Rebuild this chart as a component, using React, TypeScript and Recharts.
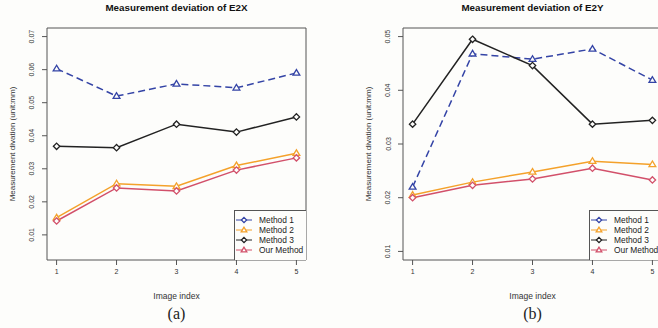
import React from 'react';
import { LineChart, Line, XAxis, YAxis, ReferenceArea, Legend } from 'recharts';

const X_INDEX = [1, 2, 3, 4, 5];

const E2X_M1 = [0.0603, 0.052, 0.0557, 0.0545, 0.059];
const E2X_M2 = [0.0152, 0.0255, 0.0247, 0.031, 0.0347];
const E2X_M3 = [0.0368, 0.0364, 0.0435, 0.0411, 0.0457];
const E2X_OUR = [0.0142, 0.0242, 0.0233, 0.0296, 0.0333];
const E2X_TICKS = [0.01, 0.02, 0.03, 0.04, 0.05, 0.06, 0.07];
const E2X_YLIM = [0.005, 0.07];

const E2Y_M1 = [0.022, 0.0468, 0.0458, 0.0477, 0.0419];
const E2Y_M2 = [0.0205, 0.0229, 0.0248, 0.0268, 0.0262];
const E2Y_M3 = [0.0337, 0.0495, 0.0446, 0.0337, 0.0344];
const E2Y_OUR = [0.02, 0.0223, 0.0235, 0.0255, 0.0233];
const E2Y_TICKS = [0.01, 0.02, 0.03, 0.04, 0.05];
const E2Y_YLIM = [0.01, 0.05];

const LEGEND_NAMES = ['Method 1', 'Method 2', 'Method 3', 'Our Method'];

const BLUE = '#3444a6';
const ORANGE = '#f4a12a';
const BLACK = '#222222';
const RED = '#d2506a';
const BG = '#fdfdfb';
const FONT = '"Liberation Sans", Arial, Helvetica, sans-serif';

// R style axis range: 4% padding on each side
const pad = (lim: number[]) => {
  const d = (lim[1] - lim[0]) * 0.04;
  return [lim[0] - d, lim[1] + d];
};
const X_DOMAIN = pad([1, 5]);

const Triangle = (props: any) => {
  const { cx, cy, color, r = 3.4 } = props;
  if (cx == null || cy == null) return null;
  return (
    <polygon
      points={`${cx},${cy - r} ${cx - r},${cy + r * 0.65} ${cx + r},${cy + r * 0.65}`}
      fill={BG}
      stroke={color}
      strokeWidth={1.3}
    />
  );
};

const Diamond = (props: any) => {
  const { cx, cy, color, r = 3.2 } = props;
  if (cx == null || cy == null) return null;
  return (
    <polygon
      points={`${cx},${cy - r} ${cx + r},${cy} ${cx},${cy + r} ${cx - r},${cy}`}
      fill={BG}
      stroke={color}
      strokeWidth={1.3}
    />
  );
};

const YTick = (props: any) => {
  const { x, y, payload } = props;
  const tx = x - 8;
  return (
    <text
      x={tx}
      y={y}
      transform={`rotate(-90 ${tx} ${y})`}
      textAnchor="middle"
      dominantBaseline="central"
      fontSize={7}
      fontFamily={FONT}
      fill="#333"
    >
      {payload.value.toFixed(2)}
    </text>
  );
};

const YLabel = (props: any) => {
  const vb = props.viewBox || {};
  const x = (vb.x || 0) + 12;
  const y = (vb.y || 0) + (vb.height || 0) / 2;
  return (
    <text
      x={x}
      y={y}
      transform={`rotate(-90 ${x} ${y})`}
      textAnchor="middle"
      dominantBaseline="central"
      fontSize={8}
      fontFamily={FONT}
      fill="#333"
    >
      Measurement divation (unit:mm)
    </text>
  );
};

const LegendBox = ({ width }: { width: number }) => {
  const colors = [BLUE, ORANGE, BLACK, RED];
  return (
    <svg width={width} height={50} style={{ display: 'block' }}>
      <rect x={0.5} y={0.5} width={width + 5} height={55} fill={BG} stroke="#555" />
      {LEGEND_NAMES.map((name, i) => {
        const y = 10 + i * 10;
        const c = colors[i];
        return (
          <g key={name}>
            <line x1={2} x2={18} y1={y} y2={y} stroke={c} strokeWidth={1} />
            {i % 2 === 0 ? (
              <Diamond cx={10} cy={y} color={c} r={2.6} />
            ) : (
              <Triangle cx={10} cy={y} color={c} r={2.8} />
            )}
            <text x={25} y={y} dominantBaseline="central" fontSize={8.4} fontFamily={FONT} fill="#222">
              {name}
            </text>
          </g>
        );
      })}
    </svg>
  );
};

interface PanelProps {
  left: number;
  viewWidth: number;
  chartWidth: number;
  marginLeft: number;
  marginRight: number;
  title: string;
  caption: string;
  m1: number[];
  m2: number[];
  m3: number[];
  our: number[];
  ticks: number[];
  ylim: number[];
  legendLeft: number;
  legendWidth: number;
}

const Panel: React.FC<PanelProps> = (p) => {
  const data = X_INDEX.map((x, i) => ({ x, m1: p.m1[i], m2: p.m2[i], m3: p.m3[i], our: p.our[i] }));
  const yDomain = pad(p.ylim);
  const plotLeft = p.marginLeft + 47;
  const plotRight = p.chartWidth - p.marginRight;
  const center = (plotLeft + plotRight) / 2;

  return (
    <div style={{ position: 'absolute', left: p.left, top: 0, width: p.viewWidth, height: 328, overflow: 'hidden' }}>
      <div
        style={{
          position: 'absolute', left: center - 100, top: 2, width: 200, textAlign: 'center',
          fontFamily: FONT, fontWeight: 'bold', fontSize: 9.8, color: '#111',
        }}
      >
        {p.title}
      </div>
      <div
        style={{
          position: 'absolute', left: center - 30, top: 305, width: 60, textAlign: 'center',
          fontFamily: '"Liberation Serif", "Times New Roman", serif', fontSize: 16, color: '#222',
        }}
      >
        {p.caption}
      </div>
      <LineChart
        width={p.chartWidth}
        height={328}
        data={data}
        margin={{ top: 28, right: p.marginRight, bottom: 0, left: p.marginLeft }}
      >
        <XAxis
          dataKey="x"
          type="number"
          domain={X_DOMAIN}
          ticks={X_INDEX}
          allowDataOverflow
          axisLine={false}
          tickSize={5}
          tickMargin={4}
          tickLine={{ stroke: '#555' }}
          tick={{ fontSize: 7, fill: '#333', fontFamily: FONT }}
          height={68}
          label={{
            value: 'Image index', position: 'insideBottom', offset: 29, fontSize: 8.5, fontFamily: FONT,
            style: { fill: '#333', stroke: 'none' },
          }}
        />
        <YAxis
          type="number"
          domain={yDomain}
          ticks={p.ticks}
          allowDataOverflow
          axisLine={false}
          tickSize={5}
          tickLine={{ stroke: '#555' }}
          tick={<YTick />}
          width={47}
          label={{ content: (lp: any) => <YLabel {...lp} /> }}
        />
        <ReferenceArea
          x1={X_DOMAIN[0]}
          x2={X_DOMAIN[1]}
          y1={yDomain[0]}
          y2={yDomain[1]}
          fill="none"
          stroke="#555"
          strokeWidth={1}
          ifOverflow="visible"
        />
        <Line
          dataKey="m1"
          stroke={BLUE}
          strokeWidth={1.5}
          strokeDasharray="7 4"
          dot={(d: any) => <Triangle key={`m1-${d.index}`} cx={d.cx} cy={d.cy} color={BLUE} />}
          isAnimationActive={false}
        />
        <Line
          dataKey="m3"
          stroke={BLACK}
          strokeWidth={1.5}
          dot={(d: any) => <Diamond key={`m3-${d.index}`} cx={d.cx} cy={d.cy} color={BLACK} />}
          isAnimationActive={false}
        />
        <Line
          dataKey="m2"
          stroke={ORANGE}
          strokeWidth={1.5}
          dot={(d: any) => <Triangle key={`m2-${d.index}`} cx={d.cx} cy={d.cy} color={ORANGE} />}
          isAnimationActive={false}
        />
        <Line
          dataKey="our"
          stroke={RED}
          strokeWidth={1.5}
          dot={(d: any) => <Diamond key={`our-${d.index}`} cx={d.cx} cy={d.cy} color={RED} />}
          isAnimationActive={false}
        />
        <Legend
          layout="horizontal"
          verticalAlign="middle"
          align="center"
          content={() => <LegendBox width={p.legendWidth} />}
          wrapperStyle={{ left: p.legendLeft, top: 210, width: p.legendWidth, height: 50 }}
        />
      </LineChart>
    </div>
  );
};

export default function App() {
  return (
    <div style={{ position: 'absolute', left: 0, top: 0, width: 658, height: 328, background: BG, overflow: 'hidden' }}>
      <Panel
        left={0}
        viewWidth={330}
        chartWidth={330}
        marginLeft={0}
        marginRight={24}
        title="Measurement deviation of E2X"
        caption="(a)"
        m1={E2X_M1}
        m2={E2X_M2}
        m3={E2X_M3}
        our={E2X_OUR}
        ticks={E2X_TICKS}
        ylim={E2X_YLIM}
        legendLeft={234}
        legendWidth={72}
      />
      <Panel
        left={330}
        viewWidth={328}
        chartWidth={340}
        marginLeft={26}
        marginRight={8}
        title="Measurement deviation of E2Y"
        caption="(b)"
        m1={E2Y_M1}
        m2={E2Y_M2}
        m3={E2Y_M3}
        our={E2Y_OUR}
        ticks={E2Y_TICKS}
        ylim={E2Y_YLIM}
        legendLeft={259}
        legendWidth={76}
      />
    </div>
  );
}
